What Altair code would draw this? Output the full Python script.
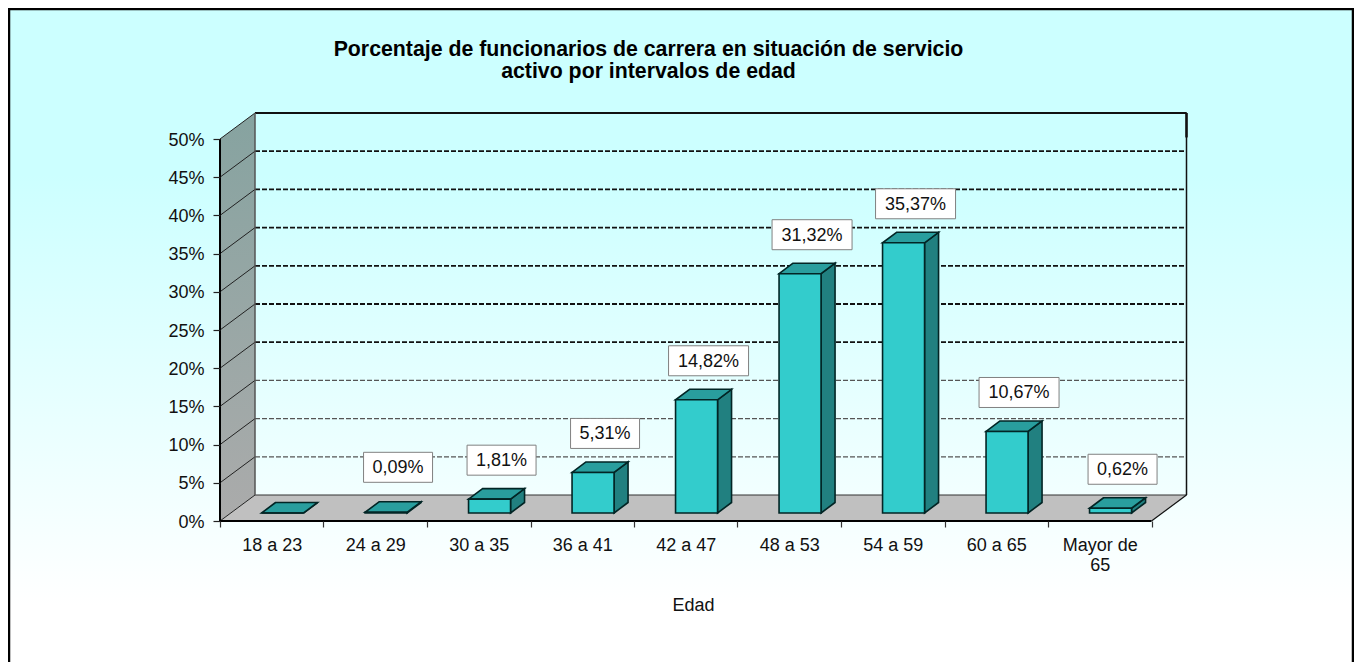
import altair as alt
import pandas as pd

categories = ["18 a 23", "24 a 29", "30 a 35", "36 a 41", "42 a 47", "48 a 53", "54 a 59", "60 a 65", "Mayor de\n65"]
values = [0.0, 0.09, 1.81, 5.31, 14.82, 31.32, 35.37, 10.67, 0.62]
labels = [None, "0,09%", "1,81%", "5,31%", "14,82%", "31,32%", "35,37%", "10,67%", "0,62%"]
grid_levels = [5, 10, 15, 20, 25, 30, 35, 40, 45, 50]
y_ticks = [0, 5, 10, 15, 20, 25, 30, 35, 40, 45, 50]

FONT = "Liberation Sans"
TXT = "#111111"
FS = 18
CAT_PX = 103.5
PCT_PX = 7.64
DEPTH_X = 35 / CAT_PX
DEPTH_Y = 26 / PCT_PX
N = len(categories)
FRONT_X = 10.8 / CAT_PX
FRONT_Y = 8 / PCT_PX
HALF = 21 / CAT_PX
BAR_DX = 14 / CAT_PX
BAR_DY = 10.5 / PCT_PX
W, H = 967, 408
PAD = {"left": 212, "top": 105, "right": 167, "bottom": 141}
LABEL_LIFT_PX = {"0,09%": 6}

xs = alt.Scale(domain=[0, W / CAT_PX], nice=False, zero=False)
ys = alt.Scale(domain=[0, H / PCT_PX], nice=False, zero=False)

label_items = ",".join(
    "[" + ",".join("'" + p + "'" for p in c.split("\n")) + "]" for c in categories
)
x_axis = alt.Axis(
    values=list(range(N + 1)), domain=False, grid=False, zindex=1,
    tickColor="#333333", tickSize=6, tickWidth=1.2,
    labelExpr=f"datum.value < {N} ? [{label_items}][datum.value] : ''",
    labelOffset=CAT_PX / 2, labelPadding=9, labelFont=FONT, labelFontSize=FS, labelColor=TXT,
    labelOverlap=False, labelBound=False, labelFlush=False, labelAlign="center",
    title="Edad", titleFont=FONT, titleFontSize=FS, titleFontWeight="normal", titleColor=TXT,
    titleX=473, titleY=75, titleAnchor="middle", titleAlign="center",
)
y_axis = alt.Axis(
    values=y_ticks, domain=False, grid=False, zindex=1,
    tickColor="#222222", tickSize=7, tickWidth=1.2,
    labelExpr="datum.value + '%'", labelPadding=9, labelFont=FONT, labelFontSize=FS, labelColor=TXT,
    labelOffset=1, labelOverlap=False, labelBound=False, title=None,
)


def X(f):
    return alt.X(f, type="quantitative", scale=xs, axis=x_axis)


def Y(f):
    return alt.Y(f, type="quantitative", scale=ys, axis=y_axis)


X2 = alt.X2
Y2 = alt.Y2

# page background and frame
page = alt.Chart(pd.DataFrame({"a": [0]})).mark_rect(
    fill={
        "gradient": "linear", "x1": 0, "y1": 0, "x2": 0, "y2": 1,
        "stops": [
            {"offset": 0, "color": "#CCFFFF"},
            {"offset": 0.25, "color": "#CCFFFF"},
            {"offset": 0.9, "color": "#FFFFFF"},
            {"offset": 1, "color": "#FFFFFF"},
        ],
    },
    stroke="#000000", strokeWidth=2.5,
).encode(
    x=alt.value(-PAD["left"] + 1), x2=alt.value(W + PAD["right"] - 1),
    y=alt.value(-PAD["top"] + 1), y2=alt.value(H + PAD["bottom"] + 10),
)

# side wall
wall_df = pd.DataFrame({"x": [0, DEPTH_X], "y": [0, DEPTH_Y], "y2": [50, 50 + DEPTH_Y]})
wall = alt.Chart(wall_df).mark_area(
    fill={
        "gradient": "linear", "x1": 0, "y1": 0, "x2": 0, "y2": 1,
        "stops": [{"offset": 0, "color": "#86A3A0"}, {"offset": 1, "color": "#ABABAB"}],
    },
).encode(x=X("x"), y=Y("y"), y2=Y2("y2"))

# floor
floor_df = pd.DataFrame({"y": [0, DEPTH_Y], "x": [0, DEPTH_X], "x2": [N, N + DEPTH_X]})
floor = alt.Chart(floor_df).mark_area(orient="horizontal", fill="#C0C0C0").encode(
    y=Y("y"), x=X("x"), x2=X2("x2")
)

# gridlines on back wall
grid_df = pd.DataFrame({"lvl": grid_levels})
grid_df["y"] = grid_df.lvl + DEPTH_Y
grid_df["x"] = DEPTH_X
grid_df["x2"] = N + DEPTH_X
grid_light = alt.Chart(grid_df[grid_df.lvl < 20]).mark_rule(
    color="#555555", strokeWidth=1.3, strokeDash=[5, 2]
).encode(x=X("x"), x2=X2("x2"), y=Y("y"))
grid_dark = alt.Chart(grid_df[grid_df.lvl >= 20]).mark_rule(
    color="#111111", strokeWidth=1.8, strokeDash=[5, 2]
).encode(x=X("x"), x2=X2("x2"), y=Y("y"))

# gridlines on side wall
wl = []
for v in y_ticks:
    wl.append({"lvl": v, "x": 0, "y": v})
    wl.append({"lvl": v, "x": DEPTH_X, "y": v + DEPTH_Y})
wall_lines = alt.Chart(pd.DataFrame(wl)).mark_line(color="#222222", strokeWidth=1).encode(
    x=X("x"), y=Y("y"), detail="lvl:N"
)

# frame lines
back_floor = alt.Chart(pd.DataFrame({"x": [DEPTH_X], "x2": [N + DEPTH_X], "y": [DEPTH_Y]})).mark_rule(
    color="#333333", strokeWidth=1.2
).encode(x=X("x"), x2=X2("x2"), y=Y("y"))
back_top = alt.Chart(pd.DataFrame({"x": [DEPTH_X], "x2": [N + DEPTH_X], "y": [50 + DEPTH_Y]})).mark_rule(
    color="#111111", strokeWidth=2
).encode(x=X("x"), x2=X2("x2"), y=Y("y"))
back_right = alt.Chart(pd.DataFrame({"x": [N + DEPTH_X], "y": [DEPTH_Y], "y2": [50 + DEPTH_Y]})).mark_rule(
    color="#111111", strokeWidth=1.5
).encode(x=X("x"), y=Y("y"), y2=Y2("y2"))
back_right_top = alt.Chart(pd.DataFrame({"x": [N + DEPTH_X], "y": [46.8 + DEPTH_Y], "y2": [50 + DEPTH_Y]})).mark_rule(
    color="#111111", strokeWidth=2.5
).encode(x=X("x"), y=Y("y"), y2=Y2("y2"))
back_left = alt.Chart(pd.DataFrame({"x": [DEPTH_X], "y": [DEPTH_Y], "y2": [50 + DEPTH_Y]})).mark_rule(
    color="#555555", strokeWidth=1.5
).encode(x=X("x"), y=Y("y"), y2=Y2("y2"))
front_left = alt.Chart(pd.DataFrame({"x": [0], "y": [0], "y2": [50]})).mark_rule(
    color="#000000", strokeWidth=2
).encode(x=X("x"), y=Y("y"), y2=Y2("y2"))
front_bottom = alt.Chart(pd.DataFrame({"x": [0], "x2": [N], "y": [0]})).mark_rule(
    color="#000000", strokeWidth=2
).encode(x=X("x"), x2=X2("x2"), y=Y("y"))
right_diag = alt.Chart(pd.DataFrame({"x": [N, N + DEPTH_X], "y": [0, DEPTH_Y]})).mark_line(
    color="#111111", strokeWidth=1.2
).encode(x=X("x"), y=Y("y"))

# bars
rows = []
side_rows = []
top_rows = []
for i, v in enumerate(values):
    c = i + 0.5 + FRONT_X
    x0, x1 = c - HALF, c + HALF
    rows.append({"i": i, "x": x0, "x2": x1, "y": FRONT_Y, "y2": FRONT_Y + v})
    side_rows.append({"i": i, "x": x1, "y": FRONT_Y, "y2": FRONT_Y + v})
    side_rows.append({"i": i, "x": x1 + BAR_DX, "y": FRONT_Y + BAR_DY, "y2": FRONT_Y + v + BAR_DY})
    top_rows.append({"i": i, "y": FRONT_Y + v, "x": x0, "x2": x1})
    top_rows.append({"i": i, "y": FRONT_Y + v + BAR_DY, "x": x0 + BAR_DX, "x2": x1 + BAR_DX})

BAR_STROKE = "#022525"
side = alt.Chart(pd.DataFrame(side_rows)).mark_area(
    fill="#218080", stroke=BAR_STROKE, strokeWidth=1.6
).encode(x=X("x"), y=Y("y"), y2=Y2("y2"), detail="i:N")
top = alt.Chart(pd.DataFrame(top_rows)).mark_area(
    orient="horizontal", fill="#299E9E", stroke=BAR_STROKE, strokeWidth=1.6
).encode(y=Y("y"), x=X("x"), x2=X2("x2"), detail="i:N")
front = alt.Chart(pd.DataFrame(rows)).mark_rect(
    fill="#33CCCC", stroke=BAR_STROKE, strokeWidth=1.6
).encode(x=X("x"), x2=X2("x2"), y=Y("y"), y2=Y2("y2"))

# data labels
lab = []
for i, (v, t) in enumerate(zip(values, labels)):
    if t is None:
        continue
    cx = i + 0.5 + FRONT_X + 12 / CAT_PX
    cy = FRONT_Y + v + (39 + LABEL_LIFT_PX.get(t, 0)) / PCT_PX
    hw = (80 if len(t) > 5 else 69) / 2 / CAT_PX
    hh = 15 / PCT_PX
    lab.append({"t": t, "cx": cx, "cy": cy - 1 / PCT_PX, "x": cx - hw, "x2": cx + hw, "y": cy - hh, "y2": cy + hh})
lab_df = pd.DataFrame(lab)
boxes = alt.Chart(lab_df).mark_rect(fill="#FFFFFF", stroke="#808080", strokeWidth=1).encode(
    x=X("x"), x2=X2("x2"), y=Y("y"), y2=Y2("y2")
)
texts = alt.Chart(lab_df).mark_text(font=FONT, fontSize=FS, color=TXT, align="center", baseline="middle").encode(
    x=X("cx"), y=Y("cy"), text="t:N"
)

chart = alt.layer(
    page, wall, floor, grid_light, grid_dark, wall_lines,
    back_floor, back_top, back_right, back_right_top, back_left,
    side, top, front, boxes, texts,
    front_left, front_bottom, right_diag,
).properties(
    width=W, height=H, padding=PAD,
    autosize=alt.AutoSizeParams(type="none"),
    title=alt.TitleParams(
        text=["Porcentaje de funcionarios de carrera en situación de servicio",
              "activo por intervalos de edad"],
        anchor="middle", dx=-55, dy=75, offset=0, font=FONT, fontSize=21.3, fontWeight="bold",
        color="#000000", lineHeight=22,
    ),
).configure_view(stroke=None)

chart.save("out.html", embed_options={"renderer": "svg", "actions": False})
